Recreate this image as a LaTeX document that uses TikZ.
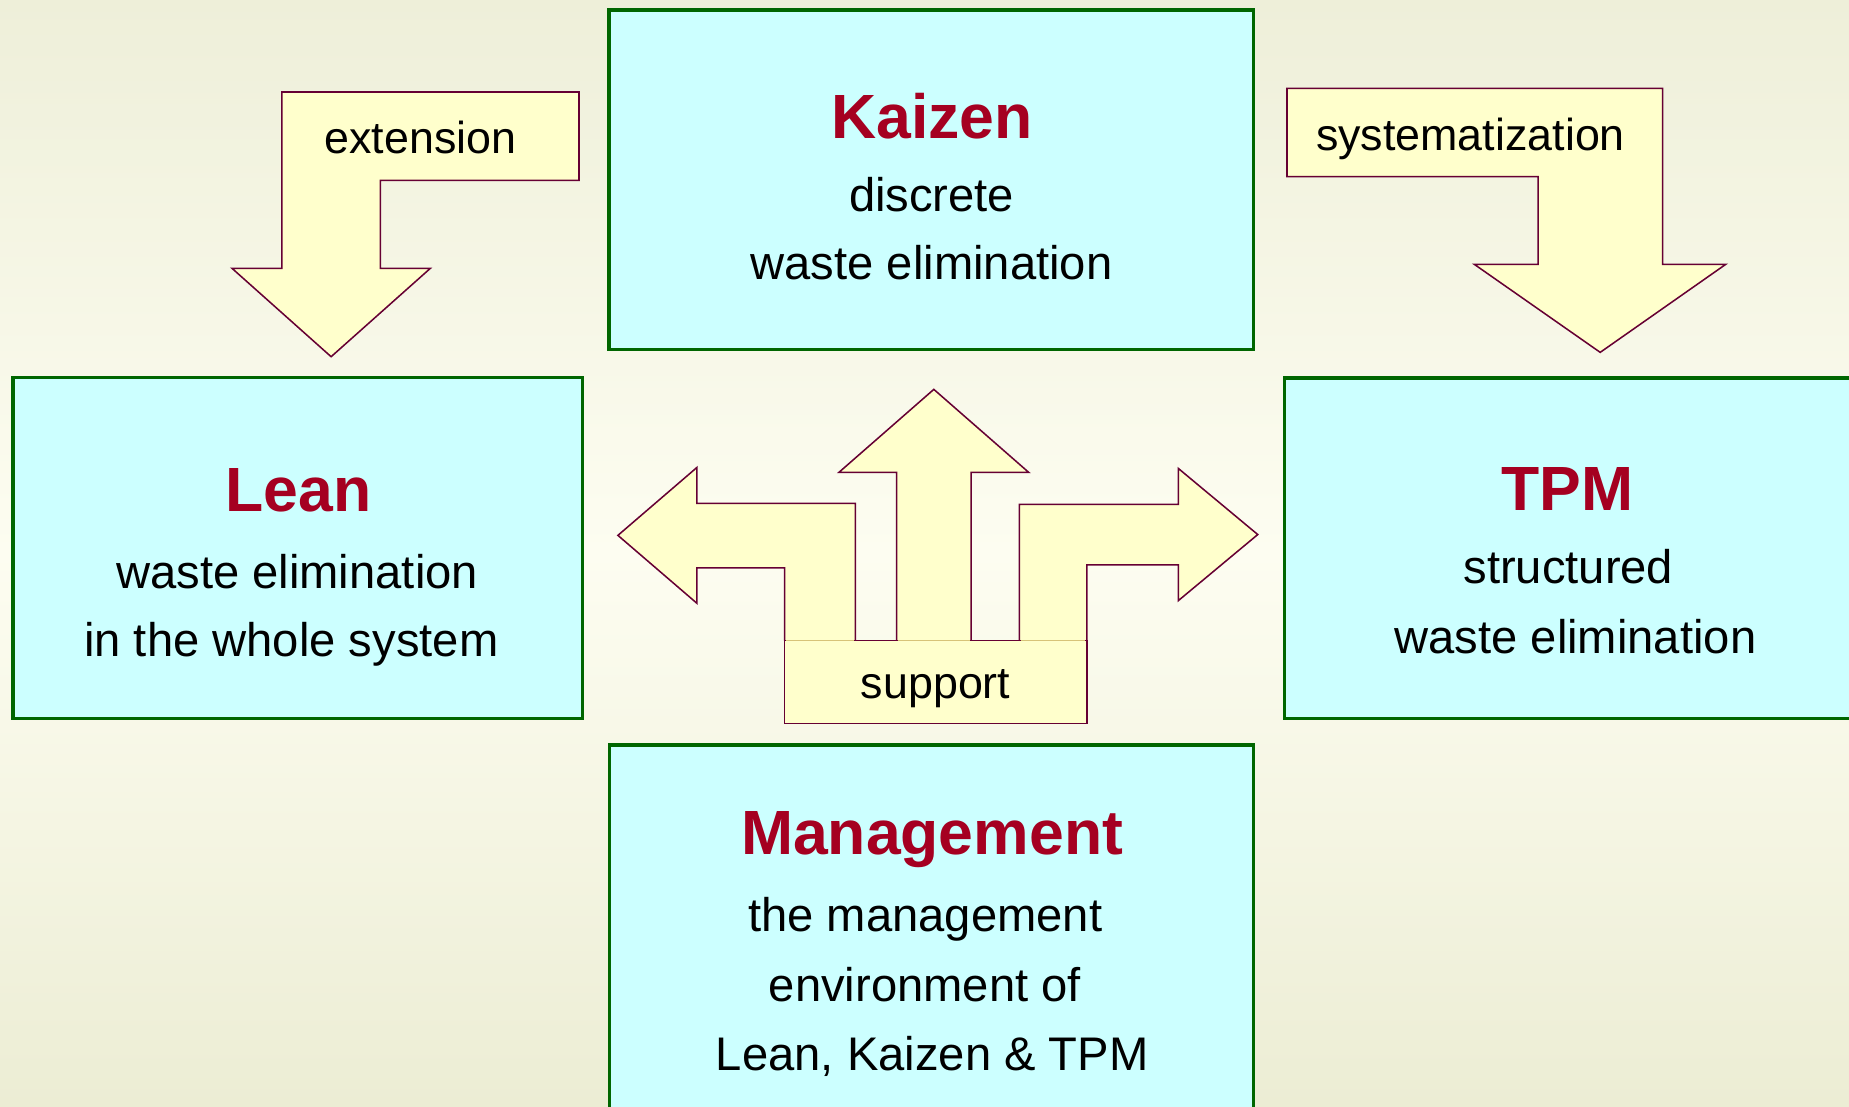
\documentclass[tikz,border=0pt]{standalone}
\usepackage{fontspec}
\setmainfont{Liberation Sans}
\definecolor{bgtop}{RGB}{238,239,217}
\definecolor{bgmid}{RGB}{253,253,241}
\definecolor{bgbot}{RGB}{236,237,212}
\definecolor{boxfill}{RGB}{204,255,255}
\definecolor{boxline}{RGB}{0,102,0}
\definecolor{arrfill}{RGB}{255,255,204}
\definecolor{arrline}{RGB}{102,0,51}
\definecolor{titlered}{RGB}{165,0,33}
\definecolor{joinline}{RGB}{215,195,120}
\begin{document}
\begin{tikzpicture}[x=1pt,y=-1pt,
  box/.style={draw=boxline,fill=boxfill,line width=3pt,inner sep=0pt,outer sep=0pt},
  supbox/.style={draw=arrline,fill=arrfill,line width=1.3pt,inner sep=0pt,outer sep=0pt},
  arrowshape/.style={draw=arrline,fill=arrfill,line width=1.3pt,line join=miter},
  ttl/.style={anchor=base,inner sep=0pt,text=titlered,font=\fontsize{53}{60}\selectfont\bfseries},
  body/.style={anchor=base,inner sep=0pt,font=\fontsize{40}{48}\selectfont},
  lbl/.style={anchor=base,inner sep=0pt,font=\fontsize{38}{44}\selectfont}]
\useasboundingbox (0,0) rectangle (1568,938);
\clip (0,0) rectangle (1568,938);
\shade[top color=bgtop, bottom color=bgbot, middle color=bgmid] (0,0) rectangle (1568,938);

% boxes
\node[box,minimum width=546.2pt,minimum height=288.2pt] (kaizen) at (789.7,152.4) {};
\node[box,minimum width=482.8pt,minimum height=289pt] (lean) at (252.4,464.7) {};
\node[box,minimum width=486.6pt,minimum height=288.7pt] (tpm) at (1332.7,464.85) {};
\node[box,minimum width=545.8pt,minimum height=328.2pt] (mgmt) at (789.9,795.9) {};

% bent arrows
\filldraw[arrowshape] (239,78) -- (491,78) -- (491,153) -- (322.6,153) -- (322.6,227.5)
  -- (365,227.5) -- (280.8,302.5) -- (196.7,227.5) -- (239,227.5) -- cycle;
\filldraw[arrowshape] (1091.4,74.9) -- (1410,74.9) -- (1410,224.2) -- (1463.4,224.2)
  -- (1357,298.8) -- (1250.3,224.2) -- (1304.3,224.2) -- (1304.3,149.8) -- (1091.4,149.8) -- cycle;

% central arrows (open at bottom)
\filldraw[arrowshape] (665.3,543.3) -- (665.3,481.5) -- (591,481.5) -- (591,511.6) -- (524,454)
  -- (591,396.4) -- (591,426.8) -- (725.4,426.8) -- (725.4,543.3);
\filldraw[arrowshape] (760.3,543.3) -- (760.3,400.6) -- (711.4,400.6) -- (791.9,330.2)
  -- (872.4,400.6) -- (823.5,400.6) -- (823.5,543.3);
\filldraw[arrowshape] (864.4,543.3) -- (864.4,427.7) -- (999.2,427.7) -- (999.2,397.2) -- (1066.6,453.3)
  -- (999.2,509.4) -- (999.2,479.1) -- (921.6,479.1) -- (921.6,543.3);

\node[supbox,minimum width=256.3pt,minimum height=70.1pt] (support) at (793.45,578.35) {};
\draw[joinline,line width=1.3pt] (666.5,543.3) -- (724.5,543.3) (761.3,543.3) -- (822.5,543.3) (865.4,543.3) -- (920.5,543.3);

% texts
\node[ttl] (kt) at (790.4,117.3) {Kaizen};
\node[body] (k1) at (790,179.5) {discrete};
\node[body] (k2) at (790,236.9) {waste elimination};

\node[ttl] (lt) at (253,433.9) {Lean};
\node[body] (l1) at (252,498.9) {waste elimination};
\node[body] (l2) at (247,556.9) {in the whole system};

\node[ttl] (tt) at (1329.4,433.1) {TPM};
\node[body] (t1) at (1330,494.7) {structured};
\node[body] (t2) at (1336,554) {waste elimination};

\node[ttl] (mt) at (790.4,725) {Management};
\node[body] (m1) at (784.7,790) {the management};
\node[body] (m2) at (784.3,849.5) {environment of};
\node[body] (m3) at (790.6,907.4) {Lean, Kaizen \& TPM};

\node[lbl] (ext) at (356.5,130.3) {extension};
\node[lbl] (sys) at (1247,127.2) {systematization};
\node[lbl] (sup) at (793.4,592) {support};
\end{tikzpicture}
\end{document}
